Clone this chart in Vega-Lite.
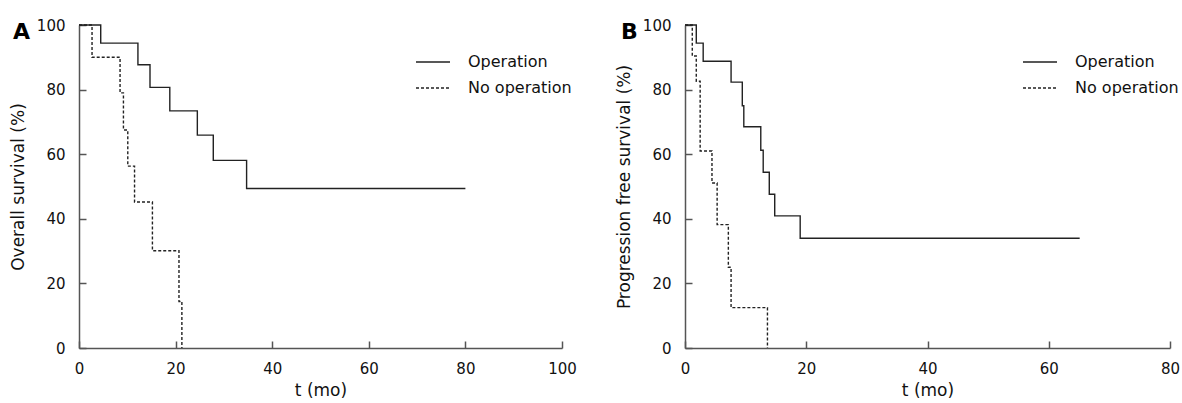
{
  "$schema": "https://vega.github.io/schema/vega-lite/v6.json",
  "background": "white",
  "padding": {"left": 9, "top": 18, "right": 0, "bottom": 2},
  "datasets": {
    "A": [
      {"t": 0, "s": 100, "group": "Operation"},
      {"t": 4.5, "s": 94.4, "group": "Operation"},
      {"t": 12.2, "s": 87.7, "group": "Operation"},
      {"t": 14.7, "s": 80.7, "group": "Operation"},
      {"t": 18.8, "s": 73.4, "group": "Operation"},
      {"t": 24.5, "s": 65.9, "group": "Operation"},
      {"t": 27.8, "s": 58.1, "group": "Operation"},
      {"t": 34.7, "s": 49.4, "group": "Operation"},
      {"t": 80, "s": 49.4, "group": "Operation"},
      {"t": 0, "s": 100, "group": "No operation"},
      {"t": 2.7, "s": 90, "group": "No operation"},
      {"t": 8.5, "s": 79, "group": "No operation"},
      {"t": 9.2, "s": 67.5, "group": "No operation"},
      {"t": 10.1, "s": 56.3, "group": "No operation"},
      {"t": 11.5, "s": 45.2, "group": "No operation"},
      {"t": 15.2, "s": 30.1, "group": "No operation"},
      {"t": 20.7, "s": 14.4, "group": "No operation"},
      {"t": 21.3, "s": 0, "group": "No operation"}
    ],
    "B": [
      {"t": 0, "s": 100, "group": "Operation"},
      {"t": 1.86, "s": 94.4, "group": "Operation"},
      {"t": 3.0, "s": 88.8, "group": "Operation"},
      {"t": 7.6, "s": 82.3, "group": "Operation"},
      {"t": 9.45, "s": 75, "group": "Operation"},
      {"t": 9.7, "s": 68.5, "group": "Operation"},
      {"t": 12.5, "s": 61.2, "group": "Operation"},
      {"t": 12.9, "s": 54.4, "group": "Operation"},
      {"t": 13.9, "s": 47.6, "group": "Operation"},
      {"t": 14.8, "s": 40.9, "group": "Operation"},
      {"t": 19.0, "s": 34.0, "group": "Operation"},
      {"t": 65.1, "s": 34.0, "group": "Operation"},
      {"t": 0, "s": 100, "group": "No operation"},
      {"t": 1.2, "s": 90.4, "group": "No operation"},
      {"t": 1.86, "s": 82.6, "group": "No operation"},
      {"t": 2.5, "s": 61, "group": "No operation"},
      {"t": 4.45, "s": 51.1, "group": "No operation"},
      {"t": 5.3, "s": 38.2, "group": "No operation"},
      {"t": 7.15, "s": 25, "group": "No operation"},
      {"t": 7.6, "s": 12.5, "group": "No operation"},
      {"t": 13.6, "s": 0, "group": "No operation"}
    ]
  },
  "config": {
    "font": "DejaVu Sans",
    "view": {"stroke": null},
    "axis": {
      "grid": false,
      "domainColor": "#555",
      "domainWidth": 1.5,
      "tickColor": "#555",
      "tickWidth": 1.5,
      "tickSize": -7,
      "labelPadding": 21,
      "labelFlush": false,
      "labelFontSize": 15,
      "labelColor": "#111",
      "labelFont": "DejaVu Sans",
      "titleFont": "DejaVu Sans",
      "titleFontSize": 17,
      "titleFontWeight": "normal",
      "titleColor": "#111"
    },
    "axisX": {"labelPadding": 20, "titlePadding": 6},
    "axisY": {"titlePadding": 9},
    "legend": {
      "orient": "none",
      "title": null,
      "symbolType": "stroke",
      "symbolSize": 1156,
      "symbolStrokeWidth": 1.4,
      "symbolStrokeColor": "#222",
      "labelFontSize": 16,
      "labelFont": "DejaVu Sans",
      "labelColor": "#111",
      "labelOffset": 17,
      "rowPadding": 0,
      "padding": 0
    },
    "title": {
      "anchor": "start",
      "frame": "group",
      "baseline": "alphabetic",
      "fontSize": 22,
      "fontWeight": "bold",
      "font": "DejaVu Sans",
      "color": "#000",
      "offset": -26
    }
  },
  "spacing": 38,
  "resolve": {"scale": {"strokeDash": "independent", "x": "independent"}, "legend": {"strokeDash": "independent"}},
  "hconcat": [
    {
      "title": {"text": "A", "dx": -66},
      "width": 483,
      "height": 323,
      "data": {"name": "A"},
      "mark": {"type": "line", "interpolate": "step-after", "color": "#222", "strokeWidth": 1.4},
      "encoding": {
        "x": {"field": "t", "type": "quantitative", "scale": {"domain": [0, 100], "nice": false}, "axis": {"title": "t (mo)", "values": [0, 20, 40, 60, 80, 100]}},
        "y": {"field": "s", "type": "quantitative", "scale": {"domain": [0, 100], "nice": false}, "axis": {"title": "Overall survival (%)", "values": [0, 20, 40, 60, 80, 100]}},
        "strokeDash": {"field": "group", "type": "nominal", "scale": {"domain": ["Operation", "No operation"], "range": [[1, 0], [3, 2]]}, "legend": {"legendX": 336, "legendY": 19}}
      }
    },
    {
      "title": {"text": "B", "dx": -64},
      "width": 485,
      "height": 323,
      "data": {"name": "B"},
      "mark": {"type": "line", "interpolate": "step-after", "color": "#222", "strokeWidth": 1.4},
      "encoding": {
        "x": {"field": "t", "type": "quantitative", "scale": {"domain": [0, 80], "nice": false}, "axis": {"title": "t (mo)", "values": [0, 20, 40, 60, 80]}},
        "y": {"field": "s", "type": "quantitative", "scale": {"domain": [0, 100], "nice": false}, "axis": {"title": "Progression free survival (%)", "values": [0, 20, 40, 60, 80, 100]}},
        "strokeDash": {"field": "group", "type": "nominal", "scale": {"domain": ["Operation", "No operation"], "range": [[1, 0], [3, 2]]}, "legend": {"legendX": 337, "legendY": 19}}
      }
    }
  ]
}
